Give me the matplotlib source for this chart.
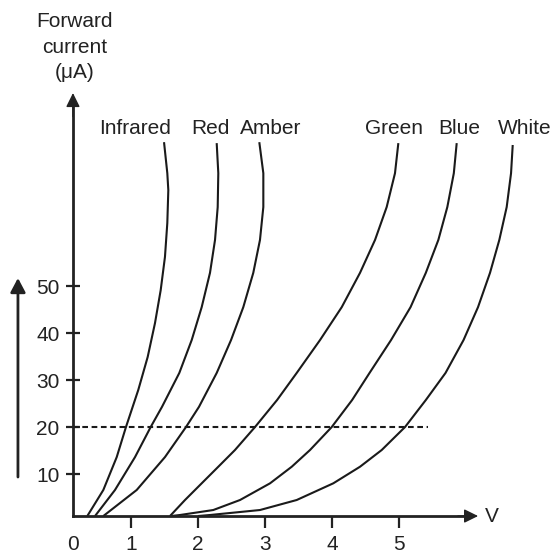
import matplotlib
matplotlib.use("Agg")
import matplotlib.pyplot as plt

plt.rcParams['font.family'] = ['Liberation Sans', 'DejaVu Sans']
plt.rcParams['lines.scale_dashes'] = False

# LED forward characteristics (volts, microamps)
infrared_v = [0.348, 0.587, 0.787, 0.925, 1.109, 1.249, 1.358, 1.443, 1.507, 1.542, 1.557, 1.542, 1.493]
infrared_i = [1.06, 6.6, 13.6, 20.0, 27.9, 34.9, 42.1, 49.1, 56.2, 63.4, 70.4, 74.0, 80.6]
red_v = [0.463, 0.761, 1.060, 1.294, 1.463, 1.721, 1.906, 2.055, 2.179, 2.254, 2.294, 2.303, 2.279]
red_i = [1.06, 6.6, 13.6, 20.0, 24.3, 31.5, 38.5, 45.5, 52.8, 59.8, 66.8, 74.0, 80.4]
amber_v = [0.587, 1.085, 1.507, 1.821, 2.015, 2.279, 2.493, 2.676, 2.825, 2.925, 2.975, 2.975, 2.915]
amber_i = [1.06, 6.6, 13.6, 20.0, 24.3, 31.5, 38.5, 45.5, 52.8, 59.8, 66.8, 74.0, 80.6]
green_v = [1.582, 1.806, 2.055, 2.303, 2.552, 2.851, 3.180, 3.473, 3.821, 4.145, 4.418, 4.642, 4.816, 4.940, 4.990]
green_i = [1.06, 4.47, 8.02, 11.55, 15.11, 20.0, 25.74, 31.5, 38.5, 45.5, 52.8, 59.8, 66.8, 74.0, 80.4]
blue_v = [1.600, 1.731, 2.228, 2.627, 3.075, 3.399, 3.672, 3.996, 4.300, 4.560, 4.881, 5.172, 5.400, 5.587, 5.721, 5.818, 5.861]
blue_i = [1.06, 1.28, 2.34, 4.47, 8.02, 11.55, 15.11, 20.0, 25.74, 31.5, 38.5, 45.5, 52.8, 59.8, 66.8, 74.0, 80.4]
white_v = [2.000, 2.179, 2.925, 3.473, 4.019, 4.418, 4.742, 5.090, 5.400, 5.694, 5.963, 6.179, 6.358, 6.497, 6.607, 6.672, 6.697]
white_i = [1.06, 1.28, 2.34, 4.47, 8.02, 11.55, 15.11, 20.0, 25.74, 31.5, 38.5, 45.5, 52.8, 59.8, 66.8, 74.0, 80.0]

names = ["Infrared", "Red", "Amber", "Green", "Blue", "White"]
label_v = [1.06, 2.18, 3.09, 4.93, 5.90, 6.87]
label_i = 83.6

ref_current = 20
ref_v_end = 5.43
yticks = [10, 20, 30, 40, 50]
xticks = [1, 2, 3, 4, 5]

curves = [(infrared_v, infrared_i), (red_v, red_i), (amber_v, amber_i),
          (green_v, green_i), (blue_v, blue_i), (white_v, white_i)]

fig = plt.figure(figsize=(5.55, 5.55), dpi=100)
ax = fig.add_axes([0, 0, 1, 1])
ax.set_xlim(-0.955, 7.328)
ax.set_ylim(-7.23, 110.85)

x0, y0 = 0.134, 1.06
ytop, xend = 91.06, 6.18

for s in ["top", "right"]:
    ax.spines[s].set_visible(False)
ax.spines["left"].set_position(("data", x0))
ax.spines["bottom"].set_position(("data", y0))
ax.spines["left"].set_bounds(y0, ytop - 2)
ax.spines["bottom"].set_bounds(x0, xend - 0.1)
for s in ["left", "bottom"]:
    ax.spines[s].set_linewidth(2)
    ax.spines[s].set_color("#222222")

arrow = dict(arrowstyle="-|>,head_length=0.85,head_width=0.42", color="#222222",
             lw=1, shrinkA=0, shrinkB=0, mutation_scale=10)
ax.annotate("", xy=(x0, ytop), xytext=(x0, ytop - 5), arrowprops=arrow)
ax.annotate("", xy=(xend, y0), xytext=(xend - 0.3, y0), arrowprops=arrow)

ax.set_xticks([x0] + xticks)
ax.set_xticklabels(["0"] + [str(v) for v in xticks])
ax.set_yticks(yticks)
ax.set_yticklabels([str(v) for v in yticks])
ax.tick_params(axis="x", direction="out", length=8.6, width=1.6, pad=5,
               labelsize=15, colors="#222222")
ax.tick_params(axis="y", direction="inout", length=9.4, width=1.6, pad=5,
               labelsize=15, colors="#222222")
ax.xaxis.get_major_ticks()[0].tick1line.set_visible(False)

for (v, i) in curves:
    ax.plot(v, i, color="#1a1a1a", lw=1.5, solid_capstyle="butt",
            solid_joinstyle="round")

for name, lv in zip(names, label_v):
    ax.text(lv, label_i, name, ha="center", va="center", fontsize=15, color="#222222")

ax.plot([x0, ref_v_end], [ref_current, ref_current], color="#1a1a1a", lw=1.5,
        linestyle=(0, (4.1, 2.6)))

ax.text(6.39, y0, "V", ha="center", va="center", fontsize=15, color="#222222")
ax.text(0.164, 100.85, "Forward\ncurrent\n(\u03bcA)", ha="center", va="center",
        fontsize=15, color="#222222", linespacing=1.45)

# the loose arrow beside the current scale
side_arrow = dict(arrowstyle="-|>,head_length=0.85,head_width=0.45", color="#222222",
                  lw=2, shrinkA=0, shrinkB=0, mutation_scale=10)
ax.annotate("", xy=(-0.687, 51.7), xytext=(-0.687, 9.36), arrowprops=side_arrow)

fig.savefig("out.png", dpi=100)
